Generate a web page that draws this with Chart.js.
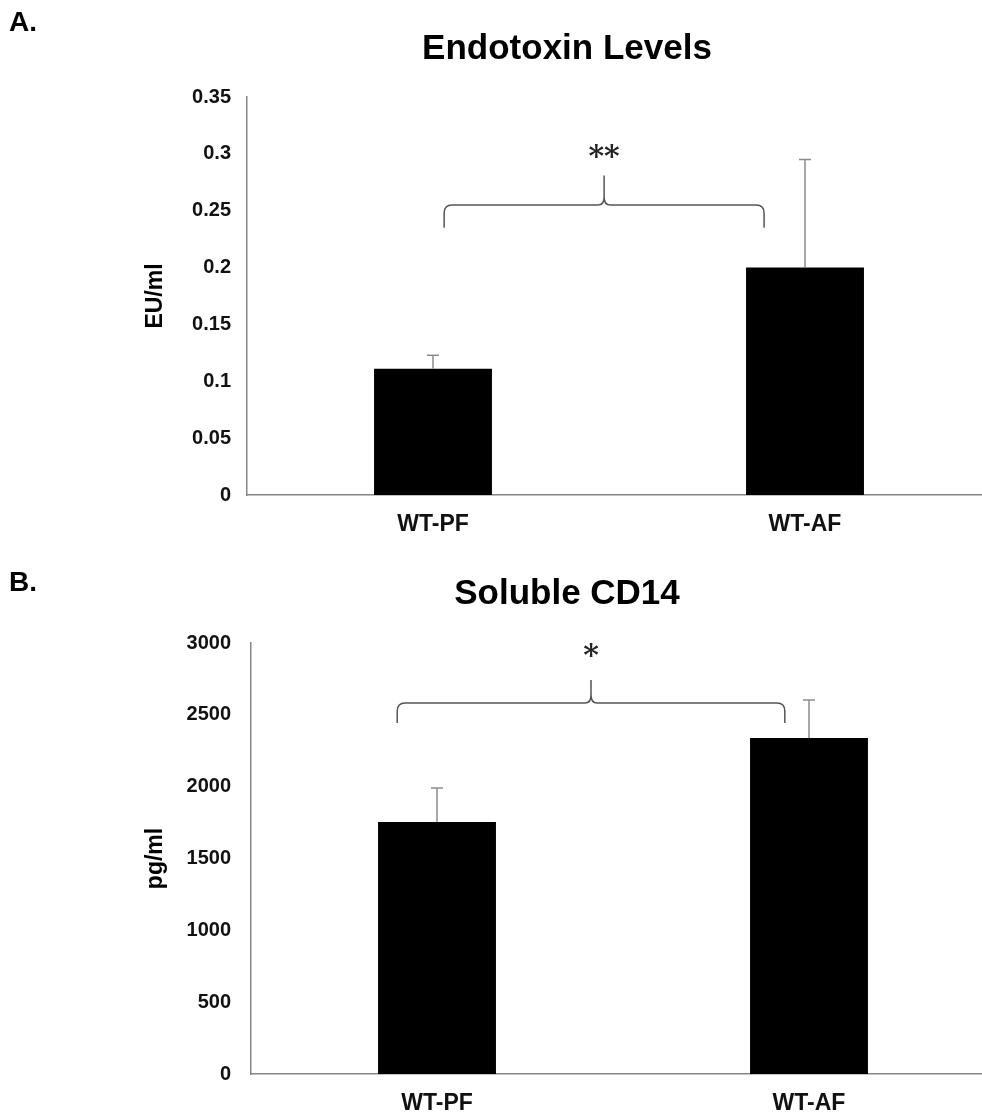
<!DOCTYPE html>
<html>
<head>
<meta charset="utf-8">
<script src="https://cdn.jsdelivr.net/npm/chart.js@4.4.1/dist/chart.umd.min.js"></script>
<style>
  html, body { margin: 0; padding: 0; background: #fff; overflow: hidden; }
  #wrap { width: 982px; height: 1114px; overflow: hidden; position: relative; }
  canvas { display: block; }
</style>
</head>
<body>
<div id="wrap">
  <canvas id="endo" width="1000" height="548"></canvas>
  <canvas id="cd14" width="1000" height="566"></canvas>
</div>
<script>
var groups = ['WT-PF', 'WT-AF'];

var endoValues = [0.111, 0.200];
var endoErrors = [0.012, 0.095];
var endoTicks = [0, 0.05, 0.1, 0.15, 0.2, 0.25, 0.3, 0.35];

var cd14Values = [1754, 2339];
var cd14Errors = [237, 264];
var cd14Ticks = [0, 500, 1000, 1500, 2000, 2500, 3000];

// brace: [from index, to index, line value, end value, tip value, star value]
var endoBrace = [0.03, 0.89, 0.255, 0.235, 0.281, 0.302];
var cd14Brace = [-0.107, 0.935, 2582, 2443, 2742, 2951];

var FONT = "'Liberation Sans', Arial, sans-serif";

var errorBars = {
    id: 'errorBars',
    afterDatasetsDraw: function(chart, args, opts) {
        var ctx = chart.ctx;
        var meta = chart.getDatasetMeta(0);
        var y = chart.scales.y;
        ctx.save();
        ctx.strokeStyle = '#8c8c8c';
        ctx.lineWidth = 1.5;
        meta.data.forEach(function(bar, i) {
            var top = y.getPixelForValue(opts.values[i] + opts.errors[i]);
            var base = y.getPixelForValue(opts.values[i]);
            ctx.beginPath();
            ctx.moveTo(bar.x, base);
            ctx.lineTo(bar.x, top);
            ctx.moveTo(bar.x - 6, top);
            ctx.lineTo(bar.x + 6, top);
            ctx.stroke();
        });
        ctx.restore();
    }
};

var brace = {
    id: 'brace',
    afterDraw: function(chart, args, opts) {
        var ctx = chart.ctx;
        var xs = chart.scales.x, ys = chart.scales.y;
        var b = opts.brace;
        var x1 = xs.getPixelForValue(b[0]);
        var x2 = xs.getPixelForValue(b[1]);
        var xc = (x1 + x2) / 2;
        var yh = ys.getPixelForValue(b[2]);
        var ye = ys.getPixelForValue(b[3]);
        var yt = ys.getPixelForValue(b[4]);
        var r = 8;
        ctx.save();
        ctx.strokeStyle = '#555';
        ctx.lineWidth = 1.5;
        ctx.beginPath();
        ctx.moveTo(x1, ye);
        ctx.lineTo(x1, yh + r);
        ctx.quadraticCurveTo(x1, yh, x1 + r, yh);
        ctx.lineTo(xc - 6, yh);
        ctx.quadraticCurveTo(xc, yh, xc, yh - 8);
        ctx.lineTo(xc, yt);
        ctx.moveTo(xc, yh - 8);
        ctx.quadraticCurveTo(xc, yh, xc + 6, yh);
        ctx.lineTo(x2 - r, yh);
        ctx.quadraticCurveTo(x2, yh, x2, yh + r);
        ctx.lineTo(x2, ye);
        ctx.stroke();
        ctx.fillStyle = '#222';
        ctx.font = "bold 30px 'DejaVu Serif', serif";
        ctx.textAlign = 'center';
        ctx.textBaseline = 'middle';
        ctx.fillText(opts.star, xc, ys.getPixelForValue(b[5]) + 7);
        ctx.restore();
    }
};

var headings = {
    id: 'headings',
    afterDraw: function(chart, args, opts) {
        var ctx = chart.ctx;
        ctx.save();
        ctx.fillStyle = '#000';
        ctx.textBaseline = 'middle';
        ctx.font = "bold 28px " + FONT;
        ctx.textAlign = 'left';
        ctx.fillText(opts.letter, 9, opts.letterY);
        ctx.font = "bold 35px " + FONT;
        ctx.textAlign = 'center';
        ctx.fillText(opts.title, 567, opts.titleY);
        ctx.restore();
    }
};

function makeChart(id, values, errors, ticks, unit, padTop, padRight, yWidth, xHeight, tickPad, extra) {
    return new Chart(document.getElementById(id), {
        type: 'bar',
        data: {
            labels: groups,
            datasets: [{
                data: values,
                backgroundColor: '#000',
                borderWidth: 0,
                barPercentage: 0.317,
                categoryPercentage: 1
            }]
        },
        plugins: [errorBars, brace, headings],
        options: {
            responsive: false,
            animation: false,
            layout: {
                padding: { left: 142, right: padRight, top: padTop, bottom: 0 }
            },
            plugins: {
                legend: { display: false },
                tooltip: { enabled: false },
                errorBars: { values: values, errors: errors },
                brace: extra.brace,
                headings: extra.headings
            },
            scales: {
                x: {
                    grid: { display: false, drawTicks: false },
                    border: { display: true, color: '#868686', width: 1.5 },
                    ticks: {
                        color: '#111',
                        padding: 16,
                        font: { family: FONT, size: 23, weight: 'bold' }
                    },
                    afterFit: function(s) { s.height = xHeight; }
                },
                y: {
                    min: ticks[0],
                    max: ticks[ticks.length - 1],
                    afterBuildTicks: function(s) {
                        s.ticks = ticks.map(function(v) { return { value: v }; });
                    },
                    grid: { display: false, drawTicks: false },
                    border: { display: true, color: '#868686', width: 1.5 },
                    ticks: {
                        color: '#111',
                        padding: tickPad,
                        font: { family: FONT, size: 20, weight: 'bold' },
                        callback: function(v) { return String(Number(v.toFixed(2))); }
                    },
                    title: {
                        display: true,
                        text: unit,
                        color: '#000',
                        padding: 0,
                        font: { family: FONT, size: 23, weight: 'bold' }
                    },
                    afterFit: function(s) { s.width = yWidth; }
                }
            }
        }
    });
}

makeChart('endo', endoValues, endoErrors, endoTicks, 'EU/ml', 97, 9, 105, 53, 16, {
    brace: { brace: endoBrace, star: '**' },
    headings: { letter: 'A.', letterY: 23, title: 'Endotoxin Levels', titleY: 49 }
});

makeChart('cd14', cd14Values, cd14Errors, cd14Ticks, 'pg/ml', 95, 5, 109, 40, 20, {
    brace: { brace: cd14Brace, star: '*' },
    headings: { letter: 'B.', letterY: 35, title: 'Soluble CD14', titleY: 46 }
});
</script>
</body>
</html>
